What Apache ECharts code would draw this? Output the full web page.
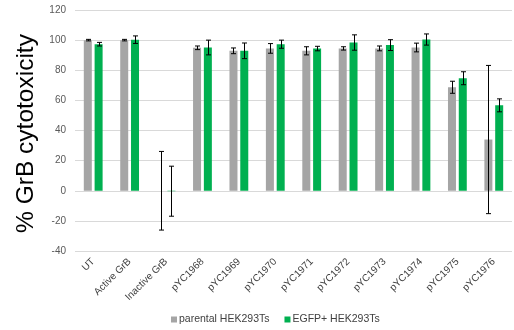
<!DOCTYPE html>
<html>
<head>
<meta charset="utf-8">
<script src="https://cdn.jsdelivr.net/npm/echarts@6/dist/echarts.min.js"></script>
<style>
  html, body { margin: 0; padding: 0; background: #fff; }
  #chart { width: 514px; height: 330px; }
</style>
</head>
<body>
<div id="chart"></div>
<script>
// Cytotoxicity per construct, mean and error (±) for the two cell lines
const categories = ['UT', 'Active GrB', 'Inactive GrB', 'pYC1968', 'pYC1969', 'pYC1970',
  'pYC1971', 'pYC1972', 'pYC1973', 'pYC1974', 'pYC1975', 'pYC1976'];
const parentalMean = [100, 100, 0, 94.9, 92.9, 94.5, 92.9, 94.5, 94.5, 95.1, 68.7, 34.0];
const parentalErr  = [0.5, 0.5, 26.1, 1.2, 1.9, 3.2, 2.7, 1.1, 1.6, 2.9, 4.0, 49.2];
const egfpMean     = [97.3, 100.3, -0.3, 95.1, 92.9, 97.3, 94.4, 98.4, 96.7, 100.4, 74.7, 56.7];
const egfpErr      = [1.2, 2.5, 16.6, 4.9, 5.2, 2.7, 1.5, 5.1, 3.6, 3.7, 4.3, 4.3];
const yTicks = { min: -40, max: 120, interval: 20 };

const BAR_W = 8;
const BAR_GAP = 2.8;
const SHIFT = (BAR_W + BAR_GAP) / 2;

function errorSeries(name, mean, err, dx) {
  return {
    type: 'custom',
    name: name + ' err',
    z: 10,
    data: mean.map((m, i) => [i, m - err[i], m + err[i]]),
    renderItem: function (params, api) {
      const lo = api.coord([api.value(0), api.value(1)]);
      const hi = api.coord([api.value(0), api.value(2)]);
      const x = Math.round(lo[0] + dx) + 0.5;
      const cap = 2.5;
      const style = { stroke: '#000', lineWidth: 1 };
      return {
        type: 'group',
        children: [
          { type: 'line', shape: { x1: x, y1: hi[1], x2: x, y2: lo[1] }, style: style },
          { type: 'line', shape: { x1: x - cap, y1: hi[1], x2: x + cap, y2: hi[1] }, style: style },
          { type: 'line', shape: { x1: x - cap, y1: lo[1], x2: x + cap, y2: lo[1] }, style: style }
        ]
      };
    }
  };
}

const chart = echarts.init(document.getElementById('chart'), null, { renderer: 'canvas' });
chart.setOption({
  animation: false,
  backgroundColor: '#fff',
  grid: { left: 75, right: 2, top: 10, bottom: 79, containLabel: false, outerBoundsMode: 'none' },
  legend: {
    data: ['parental HEK293Ts', 'EGFP+ HEK293Ts'],
    left: 166,
    top: 309,
    itemWidth: 6,
    itemHeight: 6,
    itemGap: 15,
    icon: 'rect',
    textStyle: { fontFamily: 'Liberation Sans, Arial', fontSize: 10.5, color: '#404040', padding: [0, 0, 0, -3] }
  },
  xAxis: {
    type: 'category',
    data: categories,
    axisLine: { show: false, onZero: false },
    axisTick: { show: false },
    axisLabel: {
      interval: 0,
      rotate: 45,
      margin: 9,
      fontFamily: 'Liberation Sans, Arial',
      fontSize: 10,
      color: '#404040'
    }
  },
  yAxis: {
    type: 'value',
    min: yTicks.min,
    max: yTicks.max,
    interval: yTicks.interval,
    name: '% GrB cytotoxicity',
    nameLocation: 'middle',
    nameRotate: 90,
    nameGap: 36,
    nameTextStyle: { fontFamily: 'Liberation Sans, Arial', fontSize: 24.5, color: '#000', padding: [0, 6, 0, 0] },
    axisLine: { show: false },
    axisTick: { show: false },
    axisLabel: { fontFamily: 'Liberation Sans, Arial', fontSize: 10, color: '#595959', margin: 9 },
    splitLine: { lineStyle: { color: '#d9d9d9', width: 1 } }
  },
  series: [
    {
      name: 'parental HEK293Ts',
      type: 'bar',
      data: parentalMean,
      barWidth: BAR_W,
      barGap: (BAR_GAP / BAR_W * 100) + '%',
      itemStyle: { color: '#a5a5a5' }
    },
    {
      name: 'EGFP+ HEK293Ts',
      type: 'bar',
      data: egfpMean,
      barWidth: BAR_W,
      itemStyle: { color: '#00b050' }
    },
    errorSeries('parental HEK293Ts', parentalMean, parentalErr, -SHIFT),
    errorSeries('EGFP+ HEK293Ts', egfpMean, egfpErr, SHIFT)
  ]
});
</script>
</body>
</html>
